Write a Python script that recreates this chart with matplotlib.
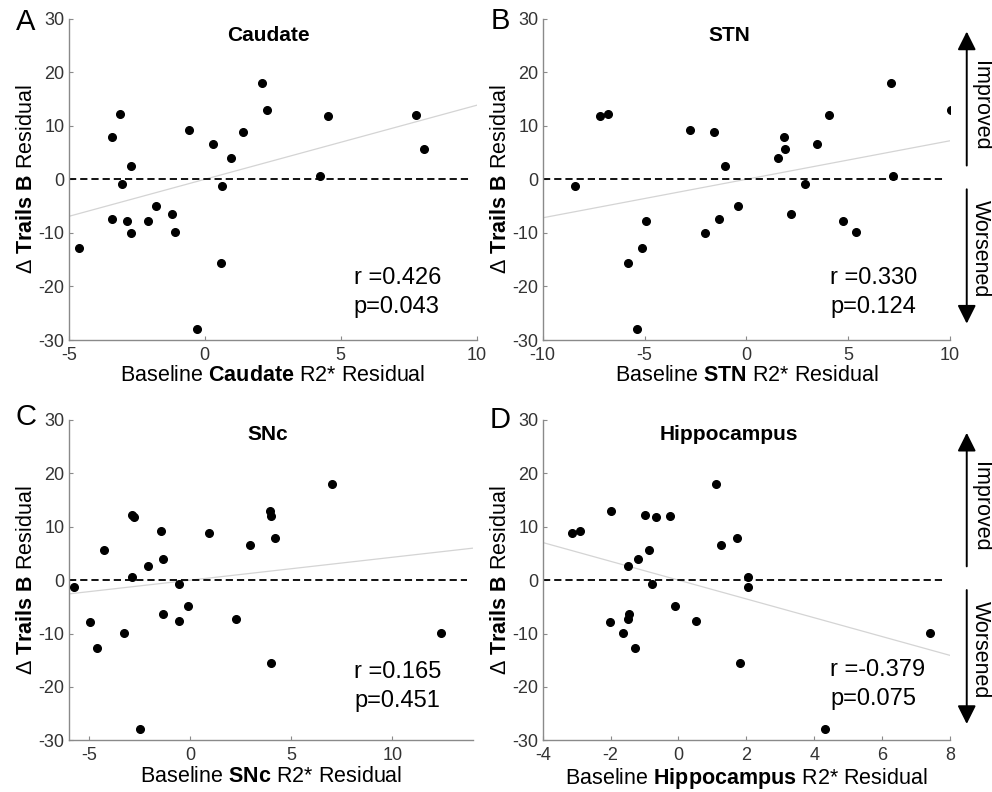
import numpy as np
import matplotlib
matplotlib.use('Agg')
import matplotlib.pyplot as plt

plt.rcParams['font.family'] = ['Liberation Sans', 'DejaVu Sans']
plt.rcParams['mathtext.fontset'] = 'custom'
plt.rcParams['mathtext.rm'] = 'Liberation Sans'
plt.rcParams['mathtext.bf'] = 'Liberation Sans:bold'
plt.rcParams['mathtext.it'] = 'Liberation Sans:italic'
plt.rcParams['axes.unicode_minus'] = False

# valeurs (résidus)
caudate_x = [-4.63, -3.41, -3.41, -3.10, -3.06, -2.87, -2.71, -2.71, -2.08, -1.81, -1.21, -1.09, -0.58,
             -0.27, 0.31, 0.59, 0.65, 0.97, 1.41, 2.11, 2.28, 4.24, 4.53, 7.75, 8.06]
caudate_y = [-12.75, 7.85, -7.34, 12.27, -0.80, -7.77, 2.56, -9.95, -7.71, -4.91, -6.40, -9.89, 9.28,
             -27.93, 6.60, -15.61, -1.30, 4.05, 8.90, 17.93, 13.01, 0.57, 11.83, 11.95, 5.61]

stn_x = [-8.40, -7.18, -6.78, -5.83, -5.35, -5.11, -4.93, -2.78, -2.01, -1.60, -1.34, -1.05, -0.39,
         1.57, 1.85, 1.92, 2.19, 2.88, 3.45, 4.04, 4.75, 5.38, 7.12, 7.20, 10.03]
stn_y = [-1.30, 11.83, 12.27, -15.61, -27.93, -12.75, -7.77, 9.28, -9.95, 8.90, -7.34, 2.56, -4.91,
         4.05, 7.85, 5.61, -6.40, -0.80, 6.60, 11.95, -7.71, -9.89, 17.93, 0.57, 13.01]

snc_x = [-5.72, -4.94, -4.60, -4.25, -3.29, -2.87, -2.87, -2.78, -2.46, -2.07, -1.45, -1.33, -1.33,
         -0.53, -0.53, -0.10, 0.94, 2.27, 2.94, 3.93, 3.99, 3.99, 4.19, 7.00, 12.42]
snc_y = [-1.30, -7.77, -12.75, 5.61, -9.95, 12.27, 0.57, 11.83, -27.93, 2.56, 9.28, 4.05, -6.40,
         -0.80, -7.71, -4.91, 8.90, -7.34, 6.60, 13.01, 11.95, -15.61, 7.85, 17.93, -9.89]

hippo_x = [-3.13, -2.90, -2.00, -2.01, -1.64, -1.48, -1.46, -1.48, -1.29, -1.19, -0.99, -0.86, -0.79,
           -0.67, -0.26, -0.09, 0.52, 1.11, 1.26, 1.72, 1.80, 2.04, 2.05, 4.33, 7.41]
hippo_y = [8.90, 9.28, 13.01, -7.77, -9.95, 2.56, -6.40, -7.34, -12.75, 4.05, 12.27, 5.61, -0.80,
           11.83, 11.95, -4.91, -7.71, 17.93, 6.60, 7.85, -15.61, 0.57, -1.30, -27.93, -9.89]

regions = ['Caudate', 'STN', 'SNc', 'Hippocampus']
panel_letters = ['A', 'B', 'C', 'D']
r_text = ['0.426', '0.330', '0.165', '-0.379']
p_text = ['0.043', '0.124', '0.451', '0.075']
xlims = [(-5, 10), (-10, 10), (-6, 14), (-4, 8)]
xticks = [[-5, 0, 5, 10], [-10, -5, 0, 5, 10], [-5, 0, 5, 10], [-4, -2, 0, 2, 4, 6, 8]]
yticks = [-30, -20, -10, 0, 10, 20, 30]

xs = [caudate_x, stn_x, snc_x, hippo_x]
ys = [caudate_y, stn_y, snc_y, hippo_y]

# mise en page (fractions de la figure)
ax_rects = [[0.0693, 0.5707, 0.4113, 0.4057],
            [0.5471, 0.5707, 0.4106, 0.4057],
            [0.0693, 0.0653, 0.4079, 0.4044],
            [0.5471, 0.0653, 0.4106, 0.4044]]
letter_pos = [(0.026, 0.972), (0.504, 0.9735), (0.026, 0.4735), (0.504, 0.4695)]
title_pos = [(0.489, 0.947), (0.457, 0.947), (0.493, 0.955), (0.457, 0.955)]
stat_pos = [(0.698, 0.192, 0.104), (0.706, 0.192, 0.104), (0.705, 0.214, 0.123), (0.706, 0.219, 0.128)]

SPINE = '#8a8a8a'
TICKTXT = '#333333'

fig = plt.figure(figsize=(9.92, 7.92), dpi=100)

for i in range(4):
    ax = fig.add_axes(ax_rects[i])
    x = np.array(xs[i])
    y = np.array(ys[i])
    lo, hi = xlims[i]

    # droite de régression
    k, b = np.polyfit(x, y, 1)
    xl = np.array([lo, hi])
    ax.plot(xl, k * xl + b, color='#d4d4d4', lw=0.9, zorder=1)
    ax.plot([lo, hi - 0.015 * (hi - lo)], [0, 0], color='k', lw=1.3, ls=(0, (4, 2.2)), zorder=2)
    ax.plot(x, y, 'o', color='k', ms=5.5, zorder=3)

    ax.set_xlim(lo, hi)
    ax.set_ylim(-30, 30)
    ax.set_xticks(xticks[i])
    ax.set_yticks(yticks)
    for s in ['top', 'right']:
        ax.spines[s].set_visible(False)
    for s in ['left', 'bottom']:
        ax.spines[s].set_color(SPINE)
        ax.spines[s].set_linewidth(1.0)
    ax.tick_params(direction='in', length=3, width=0.8, color=SPINE, labelcolor=TICKTXT,
                   labelsize=13, pad=3)
    ax.tick_params(axis='x', pad=5)

    ax.set_xlabel('Baseline $\\bf{' + regions[i] + '}$ R2* Residual', fontsize=15.5, labelpad=1)
    ax.set_ylabel('Δ $\\bf{Trails\\ B}$ Residual', fontsize=15.5, labelpad=1)

    tx, ty = title_pos[i]
    ax.text(tx, ty, regions[i], transform=ax.transAxes, ha='center', va='center',
            fontsize=15, fontweight='bold')
    sx, sy1, sy2 = stat_pos[i]
    ax.text(sx, sy1, 'r =' + r_text[i], transform=ax.transAxes, ha='left', va='center', fontsize=17)
    ax.text(sx, sy2, 'p=' + p_text[i], transform=ax.transAxes, ha='left', va='center', fontsize=17)

    lx, ly = letter_pos[i]
    fig.text(lx, ly, panel_letters[i], ha='center', va='center', fontsize=21)

    # flèches Improved / Worsened à droite (B et D)
    if i in (1, 3):
        arr = dict(arrowstyle='-|>,head_length=0.4,head_width=0.2', lw=1.4, color='k',
                   mutation_scale=28, shrinkA=0, shrinkB=0)
        ax.annotate('', xy=(1.041, 0.96), xytext=(1.041, 0.543), xycoords='axes fraction',
                    arrowprops=arr, annotation_clip=False)
        ax.annotate('', xy=(1.041, 0.051), xytext=(1.041, 0.469), xycoords='axes fraction',
                    arrowprops=arr, annotation_clip=False)
        ax.text(1.075, 0.73, 'Improved', transform=ax.transAxes, rotation=-90,
                ha='center', va='center', fontsize=15.5, clip_on=False)
        ax.text(1.075, 0.283, 'Worsened', transform=ax.transAxes, rotation=-90,
                ha='center', va='center', fontsize=15.5, clip_on=False)

fig.savefig('out.png', dpi=100)
